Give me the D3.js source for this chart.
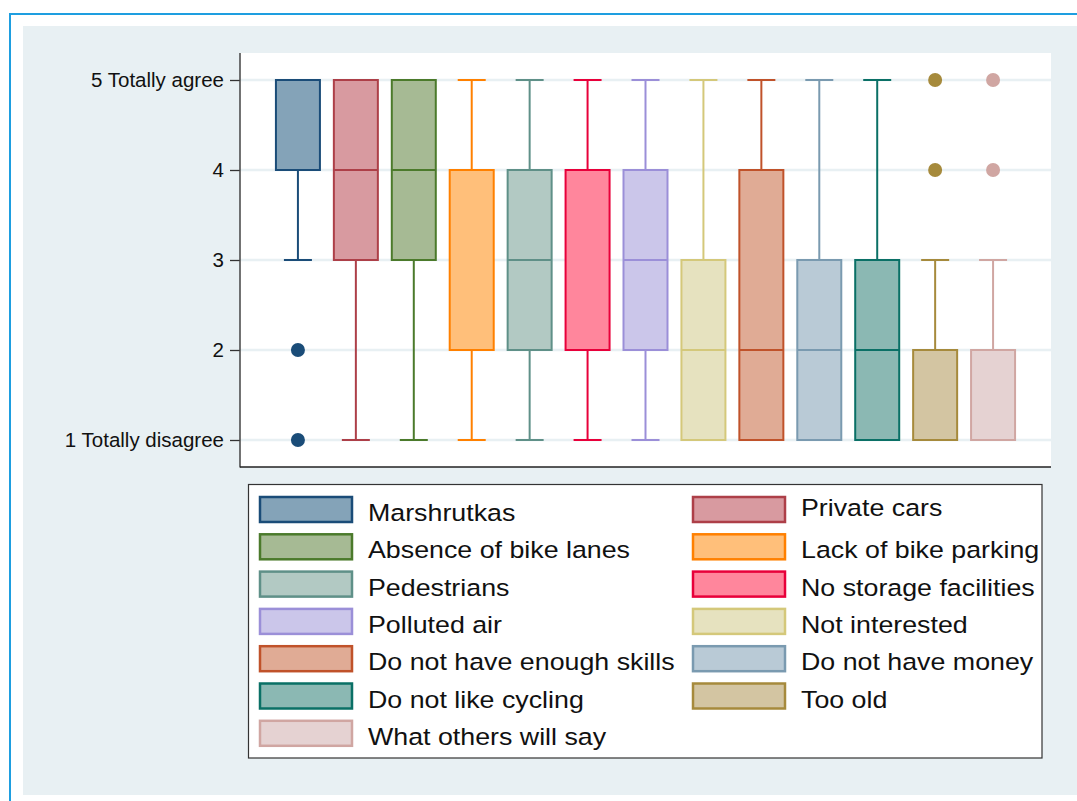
<!DOCTYPE html>
<html><head><meta charset="utf-8">
<script src="https://cdn.jsdelivr.net/npm/d3@7"></script>
<style>body{margin:0;background:#fff;}svg{display:block;font-family:Arial,"Liberation Sans",sans-serif;}</style>
</head><body>
<script>
const categories = ["Marshrutkas","Private cars","Absence of bike lanes","Lack of bike parking","Pedestrians","No storage facilities","Polluted air","Not interested","Do not have enough skills","Do not have money","Do not like cycling","Too old","What others will say"];
const q1 =      [4,3,3,2,2,2,2,1,1,1,1,1,1];
const median =  [4,4,4,4,3,4,3,2,2,2,2,1,1];
const q3 =      [5,5,5,4,4,4,4,3,4,3,3,2,2];
const whiskLo = [3,1,1,1,1,1,1,1,1,1,1,1,1];
const whiskHi = [5,5,5,5,5,5,5,5,5,5,5,3,3];
const outliers = [[2,1],[],[],[],[],[],[],[],[],[],[],[4,5],[4,5]];
const strokeColors = ["#1a4c78","#ad3f48","#4b7a2b","#ff8000","#5f9088","#e8003a","#9b8fd8","#d4c87a","#c0522a","#7a9ab0","#0a7066","#a68a3c","#d0a6a2"];
const fillColors =   ["#84a3b8","#d89aa0","#a6ba94","#ffbf7a","#b2c9c3","#ff869c","#cbc6ea","#e6e2bf","#e0ab95","#b9cad6","#8bb8b3","#d3c5a2","#e5d2d2"];
const yTickValues = [1,2,3,4,5];
const yTickLabels = ["1 Totally disagree","2","3","4","5 Totally agree"];

const W = 1077, H = 801;
const svg = d3.select("body").append("svg").attr("width", W).attr("height", H);

// outer frame
svg.append("rect").attr("x",10).attr("y",14).attr("width",W+20).attr("height",H+20)
  .attr("fill","#fff").attr("stroke","#1e9ee0").attr("stroke-width",2);
svg.append("rect").attr("x",23).attr("y",26).attr("width",W).attr("height",795-26).attr("fill","#e8f0f3");

const plot = {l:240, r:1051, t:53, b:467};
svg.append("rect").attr("x",plot.l).attr("y",plot.t).attr("width",plot.r-plot.l).attr("height",plot.b-plot.t).attr("fill","#fff");

const x = d3.scalePoint().domain(categories).range([plot.l, plot.r]).padding(1);
const y = d3.scaleLinear().domain([0.7,5.3]).range([plot.b, plot.t]);

// grid
svg.append("g").selectAll("line").data(yTickValues).join("line")
  .attr("x1",plot.l).attr("x2",plot.r).attr("y1",d=>y(d)).attr("y2",d=>y(d))
  .attr("stroke","#e8f0f3").attr("stroke-width",2.5);

const boxW = 44, capW = 28;
const rows = categories.map((c,i)=>({c,i}));
const g = svg.append("g");
rows.forEach(({c,i})=>{
  const cx = x(c);
  const gg = g.append("g");
  if (whiskHi[i] > q3[i]) {
    gg.append("line").attr("x1",cx).attr("x2",cx).attr("y1",y(q3[i])).attr("y2",y(whiskHi[i])).attr("stroke",strokeColors[i]).attr("stroke-width",2);
    gg.append("line").attr("x1",cx-capW/2).attr("x2",cx+capW/2).attr("y1",y(whiskHi[i])).attr("y2",y(whiskHi[i])).attr("stroke",strokeColors[i]).attr("stroke-width",2);
  }
  if (whiskLo[i] < q1[i]) {
    gg.append("line").attr("x1",cx).attr("x2",cx).attr("y1",y(q1[i])).attr("y2",y(whiskLo[i])).attr("stroke",strokeColors[i]).attr("stroke-width",2);
    gg.append("line").attr("x1",cx-capW/2).attr("x2",cx+capW/2).attr("y1",y(whiskLo[i])).attr("y2",y(whiskLo[i])).attr("stroke",strokeColors[i]).attr("stroke-width",2);
  }
  gg.append("rect").attr("x",cx-boxW/2).attr("y",y(q3[i])).attr("width",boxW).attr("height",y(q1[i])-y(q3[i]))
    .attr("fill",fillColors[i]).attr("stroke",strokeColors[i]).attr("stroke-width",2);
  gg.append("line").attr("x1",cx-boxW/2).attr("x2",cx+boxW/2).attr("y1",y(median[i])).attr("y2",y(median[i]))
    .attr("stroke",strokeColors[i]).attr("stroke-width",2);
  gg.selectAll("circle").data(outliers[i]).join("circle")
    .attr("cx",cx).attr("cy",d=>y(d)).attr("r",7).attr("fill",strokeColors[i]);
});

// axes
const yAxis = d3.axisLeft(y).tickValues(yTickValues).tickSize(10).tickPadding(6)
  .tickFormat(d=>yTickLabels[yTickValues.indexOf(d)]);
const ya = svg.append("g").attr("transform",`translate(${plot.l},0)`).call(yAxis);
ya.select(".domain").remove();
ya.selectAll(".tick line").attr("stroke","#333").attr("stroke-width",1.3);
ya.selectAll(".tick text").attr("font-size",20.5).attr("fill","#111").attr("font-family","Arial, 'Liberation Sans', sans-serif");
svg.append("line").attr("x1",plot.l).attr("x2",plot.l).attr("y1",plot.t).attr("y2",plot.b+0.5).attr("stroke","#444").attr("stroke-width",1.5);
svg.append("line").attr("x1",plot.l).attr("x2",plot.r).attr("y1",plot.b).attr("y2",plot.b).attr("stroke","#222").attr("stroke-width",1.5);

// legend
const leg = svg.append("g");
leg.append("rect").attr("x",248.5).attr("y",484.5).attr("width",1042-248.5).attr("height",758-484.5)
  .attr("fill","#fff").attr("stroke","#333").attr("stroke-width",1.2);
const colX = [{sx:260, tx:368},{sx:693, tx:801}];
const rowY = d3.range(7).map(r=>497 + r*37.3);
categories.forEach((c,i)=>{
  const col = i%2, row = Math.floor(i/2);
  const sx = colX[col].sx, sy = rowY[row];
  leg.append("rect").attr("x",sx).attr("y",sy).attr("width",92).attr("height",25)
    .attr("fill",fillColors[i]).attr("stroke",strokeColors[i]).attr("stroke-width",2.5);
  const ty = sy + 24 - (i===1 ? 5 : 0);
  leg.append("text").attr("transform",`translate(${colX[col].tx},${ty}) scale(1.14,1)`)
    .attr("font-size",23.5).attr("fill","#111").text(c);
});
</script>
</body></html>
